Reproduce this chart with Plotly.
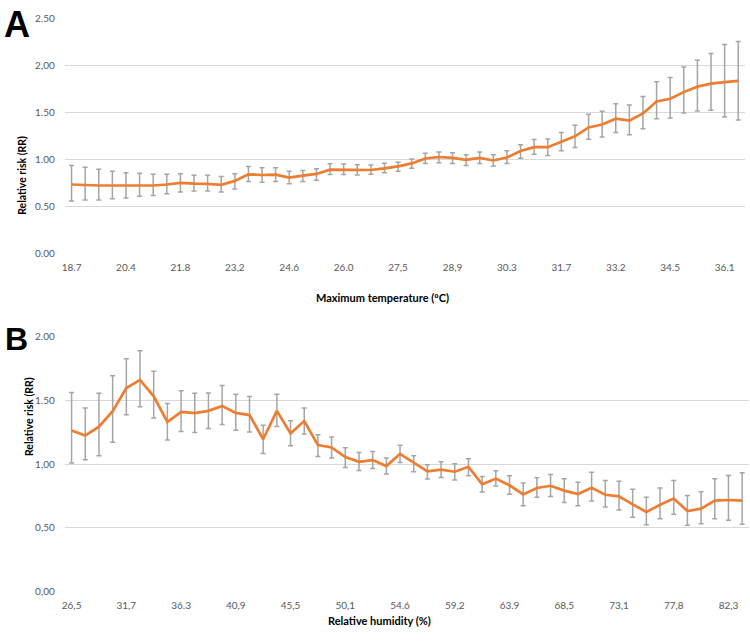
import plotly.graph_objects as go

# ---------------- Panel A: Maximum temperature ----------------
temp_ticklabels = ["18.7", "20.4", "21.8", "23,2", "24.6", "26.0", "27,5",
                   "28,9", "30.3", "31.7", "33.2", "34.5", "36.1"]
temp_rr = [0.738, 0.73, 0.727, 0.727, 0.727, 0.727, 0.727, 0.738, 0.755, 0.748,
           0.745, 0.734, 0.776, 0.846, 0.839, 0.843, 0.811, 0.832, 0.85, 0.895,
           0.895, 0.892, 0.892, 0.909, 0.93, 0.962, 1.014, 1.03, 1.02, 1.00,
           1.02, 0.993, 1.024, 1.094, 1.135, 1.135, 1.19, 1.25, 1.344, 1.375,
           1.437, 1.417, 1.493, 1.62, 1.65, 1.72, 1.778, 1.81, 1.826, 1.84]
temp_hi = [0.94, 0.92, 0.90, 0.88, 0.864, 0.857, 0.846, 0.846, 0.853, 0.836,
           0.836, 0.822, 0.853, 0.93, 0.916, 0.916, 0.878, 0.888, 0.906, 0.958,
           0.955, 0.948, 0.944, 0.965, 0.975, 1.01, 1.07, 1.083, 1.076, 1.055,
           1.083, 1.055, 1.097, 1.16, 1.215, 1.222, 1.29, 1.368, 1.486, 1.517,
           1.597, 1.583, 1.674, 1.83, 1.875, 1.986, 2.06, 2.13, 2.226, 2.257]
temp_lo = [0.563, 0.573, 0.573, 0.587, 0.594, 0.612, 0.622, 0.64, 0.657, 0.668,
           0.668, 0.657, 0.689, 0.769, 0.762, 0.769, 0.745, 0.769, 0.783, 0.843,
           0.843, 0.839, 0.846, 0.864, 0.88, 0.91, 0.96, 0.97, 0.96, 0.94,
           0.96, 0.934, 0.96, 1.017, 1.06, 1.045, 1.097, 1.132, 1.219, 1.243,
           1.29, 1.267, 1.33, 1.437, 1.444, 1.497, 1.52, 1.528, 1.455, 1.424]

# ---------------- Panel B: Relative humidity ----------------
hum_ticklabels = ["26,5", "31,7", "36.3", "40,9", "45,5", "50,1", "54.6",
                  "59,2", "63.9", "68,5", "73,1", "77,8", "82,3"]
hum_rr = [1.263, 1.224, 1.293, 1.413, 1.594, 1.658, 1.53, 1.329, 1.408, 1.398,
          1.416, 1.454, 1.40, 1.383, 1.194, 1.416, 1.24, 1.336, 1.148, 1.13,
          1.054, 1.018, 1.031, 0.984, 1.08, 1.008, 0.943, 0.956, 0.94, 0.979,
          0.842, 0.886, 0.834, 0.762, 0.813, 0.83, 0.792, 0.766, 0.815, 0.76,
          0.747, 0.685, 0.625, 0.682, 0.73, 0.633, 0.651, 0.714, 0.719, 0.714]
hum_hi = [1.559, 1.439, 1.554, 1.69, 1.824, 1.887, 1.726, 1.474, 1.574, 1.554,
          1.556, 1.615, 1.546, 1.528, 1.304, 1.546, 1.339, 1.439, 1.23, 1.212,
          1.127, 1.09, 1.098, 1.047, 1.148, 1.065, 0.995, 1.018, 1.003, 1.041,
          0.902, 0.948, 0.909, 0.852, 0.892, 0.919, 0.885, 0.857, 0.935, 0.872,
          0.865, 0.802, 0.74, 0.8125, 0.872, 0.755, 0.784, 0.885, 0.911, 0.932]
hum_lo = [1.008, 1.033, 1.064, 1.171, 1.385, 1.448, 1.36, 1.189, 1.255, 1.247,
          1.278, 1.309, 1.265, 1.25, 1.082, 1.293, 1.143, 1.235, 1.06, 1.047,
          0.974, 0.95, 0.966, 0.922, 1.013, 0.94, 0.883, 0.894, 0.876, 0.909,
          0.782, 0.829, 0.764, 0.674, 0.741, 0.747, 0.70, 0.674, 0.711, 0.664,
          0.64, 0.583, 0.526, 0.573, 0.607, 0.521, 0.534, 0.573, 0.56, 0.529]

LINE = "#ED7D31"
ERR = "#A5A5A5"
GRID = "#D9D9D9"
TICK = "#595959"
FONT = "Lato"

W, H = 750, 642


def px(x):
    return x / W


def py(y):
    return 1 - y / H


def build(rr, hi, lo):
    x = list(range(len(rr)))
    return go.Scatter(
        x=x, y=rr, mode="lines",
        line=dict(color=LINE, width=2.7),
        error_y=dict(type="data", symmetric=False,
                     array=[h - v for h, v in zip(hi, rr)],
                     arrayminus=[v - l for v, l in zip(rr, lo)],
                     color=ERR, thickness=1.5, width=2.5),
        showlegend=False, hoverinfo="skip")


fig = go.Figure()
tA = build(temp_rr, temp_hi, temp_lo)
tA.update(xaxis="x", yaxis="y")
tB = build(hum_rr, hum_hi, hum_lo)
tB.update(xaxis="x2", yaxis="y2")
fig.add_trace(tA)
fig.add_trace(tB)

xcommon = dict(showgrid=False, zeroline=False, showline=False, ticks="",
               tickfont=dict(family=FONT, size=10, color=TICK),
               ticklabelstandoff=6)
ycommon = dict(showgrid=True, gridcolor=GRID, gridwidth=1, zeroline=False,
               showline=False, ticks="",
               tickfont=dict(family=FONT, size=10, color=TICK),
               ticklabelstandoff=9)

n = len(temp_rr)
fig.update_layout(
    width=W, height=H,
    margin=dict(l=0, r=0, t=0, b=0),
    paper_bgcolor="white", plot_bgcolor="white",
    xaxis=dict(domain=[px(62), px(745)], range=[-0.5, n - 0.5],
               tickvals=list(range(0, n, 4))[:len(temp_ticklabels)],
               ticktext=temp_ticklabels, anchor="y", **xcommon),
    yaxis=dict(domain=[py(252), py(12)], range=[0, 2.5],
               tickvals=[0, 0.5, 1.0, 1.5, 2.0, 2.5],
               ticktext=["0.00", "0.50", "1.00", "1.50", "2,00", "2.50"],
               anchor="x", **ycommon),
    xaxis2=dict(domain=[px(62), px(749)], range=[-0.5, len(hum_rr) - 0.5],
                tickvals=list(range(0, len(hum_rr), 4))[:len(hum_ticklabels)],
                ticktext=hum_ticklabels, anchor="y2", **xcommon),
    yaxis2=dict(domain=[py(597), py(336)], range=[0, 2.0],
                tickvals=[0, 0.5, 1.0, 1.5, 2.0],
                ticktext=["0,00", "0,50", "1,00", "1.50", "2.00"],
                anchor="x2", **ycommon),
)

ann = []
# axis titles
ann.append(dict(text="<b>Maximum temperature (ºC)</b>", x=px(381), y=py(297),
                xref="paper", yref="paper", showarrow=False,
                font=dict(family=FONT, size=11, color="#000000")))
ann.append(dict(text="<b>Relative humidity (%)</b>", x=px(378), y=py(635),
                xref="paper", yref="paper", showarrow=False,
                font=dict(family=FONT, size=11, color="#000000")))
ann.append(dict(text="<b>Relative risk (RR)</b>", x=px(11), y=py(129),
                xref="paper", yref="paper", showarrow=False, textangle=-90,
                font=dict(family=FONT, size=10.5, color="#000000")))
ann.append(dict(text="<b>Relative risk (RR)</b>", x=px(18), y=py(460),
                xref="paper", yref="paper", showarrow=False, textangle=-90,
                font=dict(family=FONT, size=10.5, color="#000000")))
# panel letters
ann.append(dict(text="<b>A</b>", x=px(-1), y=py(-5), xref="paper", yref="paper",
                xanchor="left", yanchor="top", showarrow=False,
                font=dict(family="Liberation Sans", size=36, color="#000000")))
ann.append(dict(text="<b>B</b>", x=px(0), y=py(318), xref="paper", yref="paper",
                xanchor="left", yanchor="top", showarrow=False,
                font=dict(family="Liberation Sans", size=32, color="#000000")))
fig.update_layout(annotations=ann)

fig.write_html(
    "out.html",
    config={"displayModeBar": False},
    post_script="document.body.style.margin='0';document.body.style.overflow='hidden';",
)
